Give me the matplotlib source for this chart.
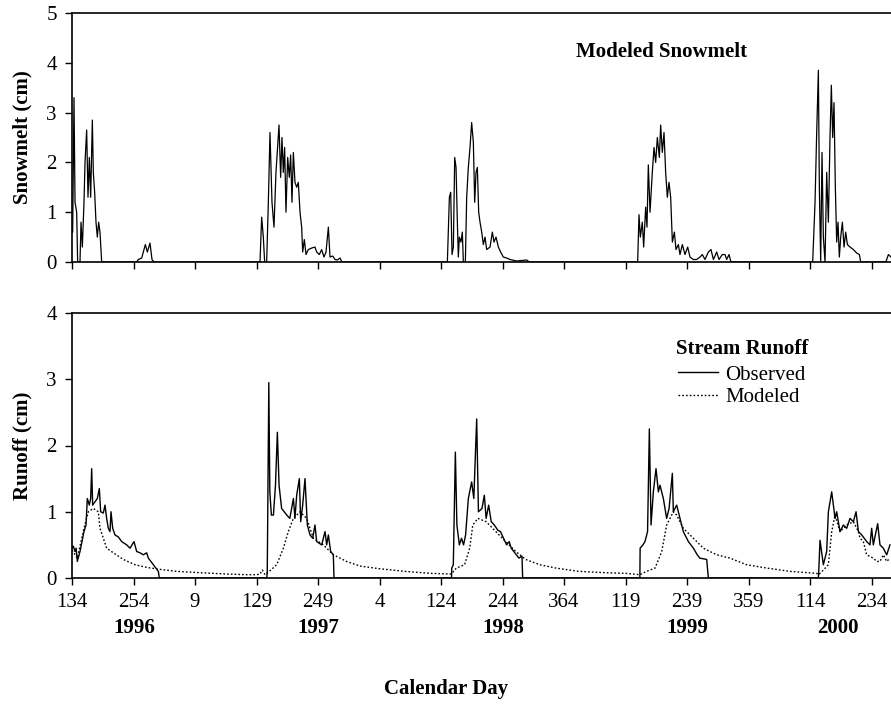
import numpy as np
import matplotlib
matplotlib.use("Agg")
import matplotlib.pyplot as plt
from matplotlib.lines import Line2D

plt.rcParams['font.family'] = ['Liberation Serif', 'DejaVu Serif']

# ---- x axis: day index counted from 1996 calendar day 134 ----
tick_pos = [0, 120, 240, 360, 480, 600, 720, 840, 960, 1080, 1200, 1320, 1440, 1560]
tick_labels = ["134", "254", "9", "129", "249", "4", "124", "244", "364",
               "119", "239", "359", "114", "234"]
years = ["1996", "1997", "1998", "1999", "2000"]
year_pos = [121, 480, 841, 1200, 1495]

# ---- Modeled snowmelt (cm) ----
snow_x = [0, 1.3, 3.9, 5.9, 9.1, 11, 15.6, 17.6, 20.2, 23.4, 25.4, 28.6, 31.2, 33.8, 36.4, 39.7,
          41.6, 44.2, 46.8, 49.4, 52, 54.6, 57.9,
          126.2, 129.4, 136, 139.2, 143.1, 147, 152.2, 156.1, 160,
          366.8, 370.1, 373.3, 375.9, 379.8, 383.1, 386.3, 390.2, 394.1, 398, 403.9, 407.1,
          409.7, 412.3, 414.9, 417.5, 420.8, 424, 426.6, 429.2, 431.9, 435.1, 438.4, 441.6,
          444.9, 448.1, 450.1, 453.3, 456.6, 461.1, 467.6, 474.1, 477.4, 482.6, 487.1, 491.7,
          495.6, 500.2, 503.4, 508.6, 513.2, 517.7, 522.9, 526.8,
          732.4, 736.3, 738.9, 741.5, 744.1, 746.7, 749.3, 751.9, 753.8, 755.8, 759, 761.6,
          763.6, 767.5, 770.1, 773.3, 776.6, 779.8, 783.1, 785.7, 788.3, 790.9, 793.5, 796.1,
          799.4, 802.6, 805.9, 809.1, 815.6, 820.2, 823.4, 827.3, 831.9, 836.4, 841.6, 848.1,
          854.6, 867.6, 887.2, 892.4,
          1103.7, 1106.3, 1108.9, 1112.8, 1115.4, 1119.3, 1121.9, 1124.5, 1127.8, 1132.3,
          1135.6, 1138.8, 1142.1, 1146, 1148.6, 1151.8, 1155.1, 1158.3, 1161.6, 1164.8, 1168.1,
          1171.4, 1175.3, 1178.5, 1183.1, 1186.3, 1190.9, 1196.1, 1201.3, 1205.8, 1212.3,
          1218.8, 1225.3, 1229.9, 1235.1, 1241.6, 1246.8, 1251.4, 1257.9, 1262.4, 1268.9,
          1274.1, 1277.4, 1281.9, 1285.8,
          1445.2, 1449.8, 1453, 1456.3, 1458.2, 1460.8, 1463.4, 1466, 1469.3, 1472.5, 1475.8,
          1479, 1481.6, 1484.2, 1486.8, 1489.4, 1492, 1494.6, 1497.2, 1499.9, 1503.1, 1506.4,
          1509.6, 1512.9, 1518.1, 1524.6, 1531.1, 1536.3, 1538.9, 1588, 1592.9, 1598]
snow_y = [0.6, 0.6, 3.3, 1.2, 1.0, 0.0, 0.0, 0.8, 0.3, 1.2, 2.0, 2.65, 1.3, 2.1, 1.3, 2.85,
          1.8, 1.4, 0.8, 0.5, 0.8, 0.6, 0.0,
          0.0, 0.05, 0.08, 0.2, 0.35, 0.2, 0.38, 0.05, 0.0,
          0.0, 0.9, 0.5, 0.0, 0.0, 1.2, 2.6, 1.2, 0.7, 1.8, 2.75, 1.7,
          2.5, 1.8, 2.3, 1.0, 2.1, 1.7, 2.15, 1.2, 2.2, 1.6, 1.5, 1.6,
          1.0, 0.7, 0.2, 0.45, 0.15, 0.25, 0.28, 0.3, 0.2, 0.15, 0.25, 0.1,
          0.2, 0.7, 0.1, 0.12, 0.05, 0.04, 0.08, 0.0,
          0.0, 1.3, 1.4, 0.15, 0.3, 2.1, 1.9, 0.8, 0.1, 0.5, 0.4, 0.6,
          0.0, 0.0, 1.3, 1.9, 2.3, 2.8, 2.4, 1.2, 1.8, 1.9, 1.0, 0.8,
          0.6, 0.35, 0.5, 0.25, 0.3, 0.6, 0.4, 0.5, 0.3, 0.2, 0.1, 0.08,
          0.05, 0.02, 0.04, 0.0,
          0.0, 0.95, 0.5, 0.8, 0.3, 1.1, 0.7, 1.95, 1.0, 1.8,
          2.3, 2.0, 2.5, 2.1, 2.75, 2.2, 2.6, 1.8, 1.3, 1.6, 1.3,
          0.4, 0.6, 0.25, 0.35, 0.15, 0.35, 0.15, 0.3, 0.1, 0.05,
          0.05, 0.1, 0.15, 0.05, 0.2, 0.25, 0.05, 0.2, 0.05, 0.15,
          0.15, 0.05, 0.15, 0.0,
          0.0, 1.2, 2.6, 3.85, 1.5, 0.0, 2.2, 0.5, 0.0, 1.8, 0.8,
          2.5, 3.55, 2.5, 3.2, 1.5, 0.4, 0.8, 0.1, 0.5, 0.8, 0.3,
          0.6, 0.35, 0.3, 0.25, 0.18, 0.15, 0.0, 0.0, 0.15, 0.1]

# ---- Observed stream runoff (cm) ----
obs_x = [0, 2.6, 5.9, 8, 10.4, 15.6, 23.4, 27.3, 29.9, 33.8, 36.4, 38.4, 40.3, 44.9, 49.4, 53.3,
         55.9, 61.1, 64.4, 67.6, 70.9, 74.2, 76.1, 79.4, 83.9, 90.4, 96.9, 106.7, 113.2, 121,
         126.2, 132.7, 139.2, 145.7, 149, 158.7, 168.5, 170.4,
         380, 381, 384, 386, 389, 393, 397, 400.7, 404, 409, 419, 425, 432, 435, 438.4, 443.6,
         446.2, 450.1, 454.6, 459.2, 464.4, 469.6, 474.1, 477.4, 487.2, 493.7, 496.9, 500.2,
         504.7, 509.9, 511.2,
         740.5, 741, 744, 748, 751, 755.8, 760, 764, 768, 773.3, 779.8, 784, 789.6, 793, 800,
         804.5, 808, 813, 818, 824, 831, 836, 842, 848, 853, 857, 862, 872, 878, 879.3,
         1108, 1108.5, 1114, 1118, 1123, 1126.5, 1129.8, 1134.3, 1139.5, 1144.1, 1147.3,
         1153.8, 1160.3, 1165, 1171.4, 1173.3, 1179.8, 1186.3, 1192.8, 1202.6, 1212.4, 1220,
         1225, 1238.4, 1241.6,
         1456.3, 1457, 1459.5, 1466, 1472.5, 1475.8, 1482.3, 1488.8, 1492, 1498.5, 1505,
         1511.5, 1518, 1524.6, 1529.8, 1534.4, 1540.9, 1550.6, 1557, 1560.3, 1563.5, 1572,
         1576.5, 1583, 1589.6, 1596]
obs_y = [0.45, 0.48, 0.4, 0.45, 0.25, 0.4, 0.7, 0.8, 1.2, 1.1, 1.2, 1.65, 1.1, 1.15, 1.2, 1.35,
         1.0, 0.98, 1.1, 0.9, 0.75, 0.7, 1.0, 0.75, 0.65, 0.62, 0.55, 0.5, 0.45, 0.55,
         0.4, 0.38, 0.35, 0.38, 0.3, 0.2, 0.1, 0.0,
         0.0, 0.1, 2.95, 1.3, 0.95, 0.95, 1.4, 2.2, 1.4, 1.05, 0.95, 0.9, 1.2, 0.9, 1.25, 1.5,
         0.85, 1.1, 1.5, 0.8, 0.65, 0.6, 0.8, 0.55, 0.5, 0.7, 0.5, 0.65,
         0.4, 0.35, 0.0,
         0.0, 0.15, 0.2, 1.9, 0.8, 0.5, 0.6, 0.5, 0.65, 1.2, 1.45, 1.2, 2.4, 1.0, 1.05,
         1.25, 0.9, 1.1, 0.85, 0.8, 0.72, 0.7, 0.6, 0.5, 0.55, 0.45, 0.4, 0.3, 0.33, 0.0,
         0.0, 0.45, 0.5, 0.55, 0.7, 2.25, 0.8, 1.3, 1.65, 1.3, 1.4,
         1.2, 0.9, 1.05, 1.58, 1.0, 1.1, 0.9, 0.7, 0.55, 0.45, 0.35,
         0.3, 0.28, 0.0,
         0.0, 0.1, 0.57, 0.2, 0.4, 1.0, 1.3, 0.9, 1.0, 0.7, 0.8,
         0.75, 0.9, 0.85, 1.0, 0.7, 0.65, 0.55, 0.5, 0.75, 0.5, 0.82,
         0.5, 0.45, 0.35, 0.5]

# ---- Modeled stream runoff (cm) ----
mod_x = [0, 10.4, 23.4, 31.9, 41.6, 51.4, 54.6, 67.6, 80.7, 100.2, 122.9, 145.7, 171.7, 204.2,
         249.8, 301.8, 340.8, 360.3, 366.8, 371.4, 376.6, 385, 399.4, 412.4, 422.1, 431.9,
         444.9, 457.9, 470.9, 490.4, 509.9, 535.9, 562, 600, 650, 700, 740, 750, 766, 776,
         782, 792, 808, 827, 846, 866, 885, 913, 944, 989, 1041, 1080, 1108, 1121, 1137.6,
         1150.6, 1160.3, 1173.3, 1179.8, 1192.8, 1212.4, 1231.9, 1257.9, 1283.9, 1316.4,
         1355.4, 1401, 1453, 1457, 1466, 1475.8, 1482.3, 1488.8, 1498.5, 1511.5, 1524.6,
         1534.4, 1537.6, 1544, 1550.6, 1563.5, 1570, 1576.5, 1583, 1589.6, 1596]
mod_y = [0.42, 0.3, 0.75, 1.0, 1.05, 1.0, 0.75, 0.45, 0.38, 0.28, 0.2, 0.16, 0.13, 0.1,
         0.08, 0.06, 0.05, 0.05, 0.06, 0.12, 0.05, 0.1, 0.2, 0.45, 0.7, 0.9,
         1.0, 0.9, 0.6, 0.5, 0.35, 0.25, 0.18, 0.14, 0.1, 0.07, 0.06, 0.15, 0.2, 0.45,
         0.8, 0.9, 0.85, 0.7, 0.55, 0.4, 0.28, 0.2, 0.15, 0.1, 0.08, 0.07, 0.05, 0.1, 0.15,
         0.4, 0.8, 1.0, 0.95, 0.75, 0.6, 0.45, 0.35, 0.3, 0.2,
         0.15, 0.1, 0.07, 0.05, 0.12, 0.2, 0.7, 0.95, 0.7, 0.8, 0.85,
         0.7, 0.6, 0.55, 0.35, 0.3, 0.25, 0.25, 0.35, 0.25, 0.3]

W, H = 891, 704
fig = plt.figure(figsize=(W / 100, H / 100), dpi=100)
left = 72 / W
right = 1.0
ax1 = fig.add_axes([left, 1 - 262 / H, right - left, (262 - 13) / H])
ax2 = fig.add_axes([left, 1 - 578 / H, right - left, (578 - 313) / H])

XMAX = 1598
for ax in (ax1, ax2):
    ax.set_xlim(0, XMAX)
    ax.set_xticks(tick_pos)
    ax.spines['right'].set_visible(False)
    for s in ('left', 'bottom', 'top'):
        ax.spines[s].set_linewidth(1.2)
    ax.tick_params(direction='out', length=5, width=1, labelsize=15, pad=6)

ax1.plot(snow_x, snow_y, color='black', lw=0.9)
ax1.set_ylim(0, 5)
ax1.set_yticks([0, 1, 2, 3, 4, 5])
ax1.set_xticklabels([])
ax1.set_ylabel("Snowmelt (cm)", fontsize=15, fontweight='bold', labelpad=10)
ax1.text(0.72, 0.845, "Modeled Snowmelt", transform=ax1.transAxes, fontsize=15,
         fontweight='bold', ha='center', va='center')

ax2.plot(obs_x, obs_y, color='black', lw=1.0, label='Observed')
ax2.plot(mod_x, mod_y, color='black', lw=1.0, linestyle=(0, (1.2, 1.5)), label='Modeled')
ax2.set_ylim(0, 4)
ax2.set_yticks([0, 1, 2, 3, 4])
ax2.set_xticklabels(tick_labels)
ax2.set_ylabel("Runoff (cm)", fontsize=15, fontweight='bold', labelpad=10)

fig.text(676 / W, 1 - 349 / H, "Stream Runoff", fontsize=15, fontweight='bold',
         ha='left', va='center')
handles = [Line2D([], [], color='black', lw=1.0),
           Line2D([], [], color='black', lw=1.0, linestyle=(0, (1.2, 1.5)))]
leg = ax2.legend(handles, ['Observed', 'Modeled'], loc='upper left',
                 bbox_to_anchor=((678 - 72) / (W - 72), (578 - 365) / 265), frameon=False,
                 fontsize=15, handlelength=1.9, handletextpad=0.35, labelspacing=0.15,
                 borderpad=0.0, borderaxespad=0.0)

for yr, xp in zip(years, year_pos):
    ax2.text(xp, -0.19, yr, transform=ax2.get_xaxis_transform(), fontsize=15,
             fontweight='bold', ha='center', va='center')
fig.text((72 + 820) / 2 / W, 1 - 689 / H, "Calendar Day", fontsize=15, fontweight='bold',
         ha='center', va='center')

fig.savefig("out.png", dpi=100)
